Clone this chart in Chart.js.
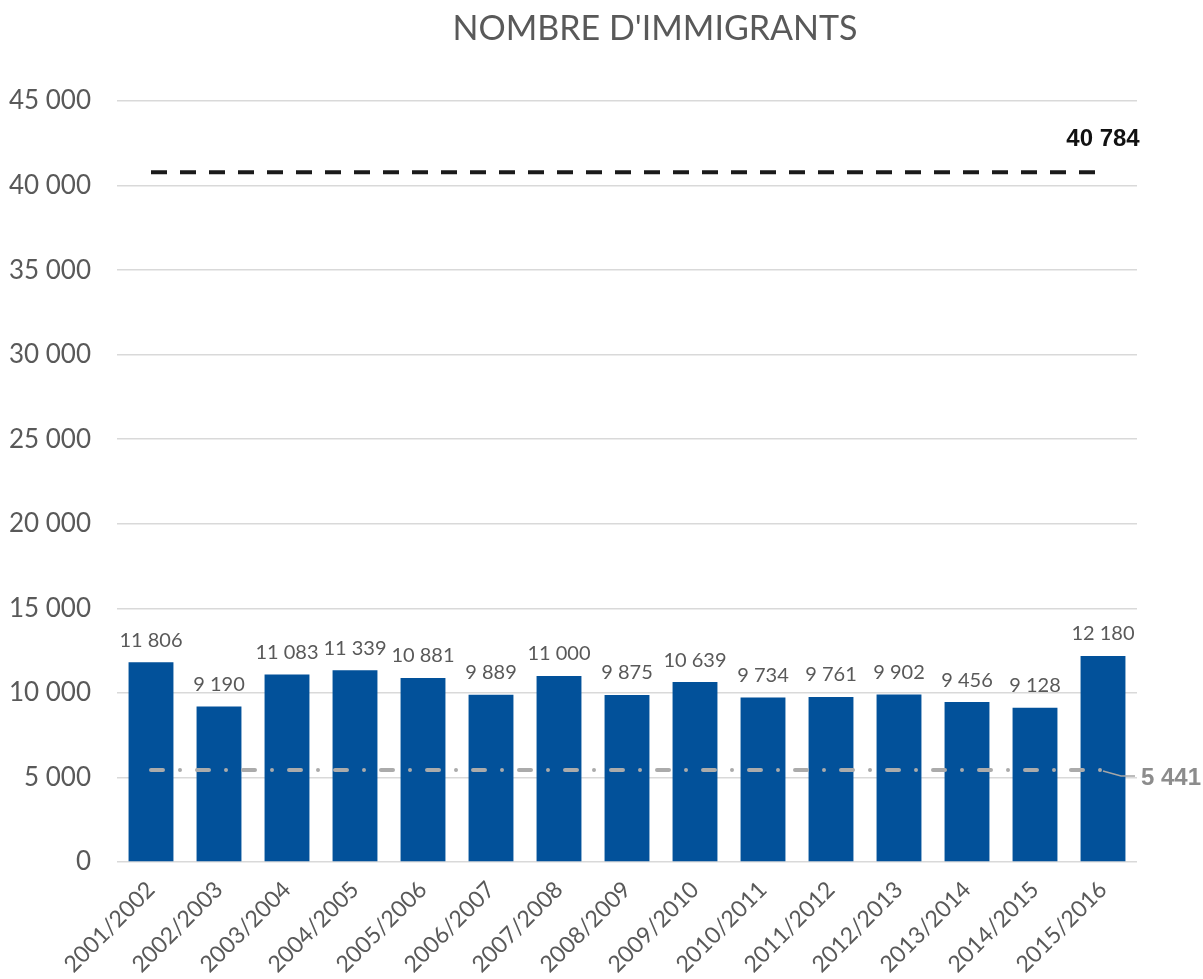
<!DOCTYPE html>
<html>
<head>
<meta charset="utf-8">
<script src="https://cdn.jsdelivr.net/npm/chart.js@4"></script>
<style>
  html, body { margin: 0; padding: 0; background: #fff; }
  #wrap { width: 1203px; height: 979px; }
</style>
</head>
<body>
<div id="wrap"><canvas id="immChart" width="1203" height="979"></canvas></div>
<script>
// données
var annees = ['2001/2002', '2002/2003', '2003/2004', '2004/2005', '2005/2006', '2006/2007', '2007/2008',
	'2008/2009', '2009/2010', '2010/2011', '2011/2012', '2012/2013', '2013/2014', '2014/2015', '2015/2016'];
var immigrants = [11806, 9190, 11083, 11339, 10881, 9889, 11000, 9875, 10639, 9734, 9761, 9902, 9456, 9128, 12180];
var niveauHaut = 40784;
var niveauBas = 5441;
var titre = "NOMBRE D'IMMIGRANTS";

var gris = '#595959';
var police = 'Lato, "Open Sans", sans-serif';

function formatNombre(v) {
	return String(v).replace(/\B(?=(\d{3})+(?!\d))/g, ' ');
}

// titre, étiquettes des barres et des deux lignes
var etiquettes = {
	id: 'etiquettes',
	afterDraw: function (chart) {
		var ctx = chart.ctx;
		ctx.save();
		ctx.font = '34px ' + police;
		ctx.fillStyle = gris;
		ctx.textAlign = 'center';
		ctx.textBaseline = 'middle';
		ctx.fillText(titre, 655, 29);
		ctx.restore();
	},
	afterDatasetsDraw: function (chart) {
		var ctx = chart.ctx;
		ctx.save();

		// valeurs au-dessus des barres
		var barres = chart.getDatasetMeta(0).data;
		ctx.font = '20px ' + police;
		ctx.fillStyle = gris;
		ctx.textAlign = 'center';
		ctx.textBaseline = 'bottom';
		barres.forEach(function (b, i) {
			ctx.fillText(formatNombre(immigrants[i]), b.x, b.y - 12);
		});

		// 40 784
		var haut = chart.getDatasetMeta(1).data;
		var pH = haut[haut.length - 1];
		ctx.font = 'bold 24px "Liberation Sans", Arial, sans-serif';
		ctx.fillStyle = '#111';
		ctx.textBaseline = 'middle';
		ctx.fillText(formatNombre(niveauHaut), pH.x, pH.y - 33);

		// 5 441 avec trait de rappel
		var bas = chart.getDatasetMeta(2).data;
		var pB = bas[bas.length - 1];
		ctx.strokeStyle = '#a6a6a6';
		ctx.lineWidth = 1.5;
		ctx.beginPath();
		ctx.moveTo(pB.x, pB.y + 1);
		ctx.lineTo(pB.x + 18, pB.y + 6);
		ctx.lineTo(pB.x + 32, pB.y + 6);
		ctx.stroke();
		ctx.fillStyle = '#8c8c8c';
		ctx.textAlign = 'left';
		ctx.fillText(formatNombre(niveauBas), pB.x + 38, pB.y + 8);

		ctx.restore();
	}
};

var ctx = document.getElementById('immChart').getContext('2d');

var immChart = new Chart(ctx, {
	type: 'bar',
	data: {
		labels: annees,
		datasets: [{
			label: "Nombre d'immigrants",
			data: immigrants,
			backgroundColor: '#02519a',
			categoryPercentage: 0.66,
			barPercentage: 1,
			order: 3
		}, {
			type: 'line',
			label: 'Niveau haut',
			data: [{ x: annees[0], y: niveauHaut }, { x: annees[annees.length - 1], y: niveauHaut }],
			borderColor: '#1a1a1a',
			borderWidth: 4,
			borderDash: [16, 13],
			pointRadius: 0,
			order: 1
		}, {
			type: 'line',
			label: 'Niveau bas',
			data: [{ x: annees[0], y: niveauBas }, { x: annees[annees.length - 1], y: niveauBas }],
			borderColor: '#ababab',
			borderWidth: 4,
			borderCapStyle: 'round',
			borderDash: [12, 17, 0, 17],
			pointRadius: 0,
			order: 2
		}]
	},
	options: {
		responsive: false,
		animation: false,
		layout: {
			padding: { left: 0, right: 66, top: 101, bottom: 0 }
		},
		scales: {
			x: {
				grid: { display: false },
				border: { display: false },
				ticks: {
					color: gris,
					font: { size: 23, family: police },
					minRotation: 45,
					maxRotation: 45,
					padding: 6
				},
				afterFit: function (scale) { scale.height = 117; }
			},
			y: {
				min: 0,
				max: 45000,
				grid: { color: '#d9d9d9', lineWidth: 1.5, drawTicks: false },
				border: { display: false },
				ticks: {
					stepSize: 5000,
					color: gris,
					padding: 26,
					font: { size: 26, family: police },
					callback: function (v) { return formatNombre(v); }
				},
				afterFit: function (scale) { scale.width = 117; }
			}
		},
		plugins: {
			legend: { display: false },
			tooltip: { enabled: false },
			title: { display: false }
		}
	},
	plugins: [etiquettes]
});
</script>
</body>
</html>
